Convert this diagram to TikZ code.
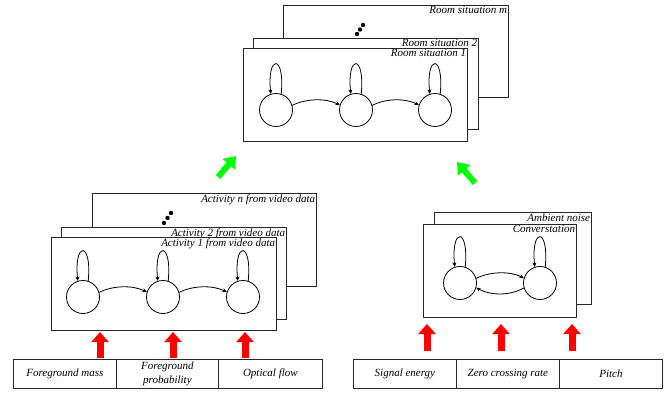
\documentclass[tikz,border=0pt]{standalone}
\usepackage{fontspec}
\setmainfont{Liberation Serif}
\usetikzlibrary{arrows.meta}
\begin{document}
\begin{tikzpicture}[x=1pt,y=-1pt,
 panel/.style={draw=black!85, line width=0.8pt, fill=white, anchor=north west, inner sep=0pt},
 lbl/.style={anchor=north east, inner sep=1.5pt, font=\fontsize{11}{12}\selectfont\itshape},
 st/.style={circle, draw, line width=0.8pt, minimum size=33pt, inner sep=0pt, fill=white},
 tr/.style={line width=0.8pt, -{Stealth[length=4.5pt,width=4pt]}},
 feat/.style={draw=black!85, line width=0.8pt, minimum height=29pt, anchor=north west, inner sep=0pt, align=center, font=\fontsize{11}{14.5}\selectfont\itshape},
 redarr/.style={draw=red, line width=7pt, -{Triangle[width=17pt,length=10pt]}},
 grnarr/.style={draw=green, line width=6pt, -{Triangle[width=16pt,length=11pt]}},
 dot/.style={circle, fill, inner sep=0pt, minimum size=4.4pt}
]
\useasboundingbox (0,0) rectangle (671,395);

% ---------- Room situations ----------
\node[panel, minimum width=225pt, minimum height=92pt] (rm) at (283,5) {};
\node[lbl] (rml) at (rm.north east) {Room situation m};
\node[dot] (rd1) at (357,34) {};
\node[dot] (rd2) at (360,29.5) {};
\node[dot] (rd3) at (363,25) {};
\node[panel, minimum width=225pt, minimum height=91pt] (r2) at (253,38) {};
\node[lbl] (r2l) at (r2.north east) {Room situation 2};
\node[panel, minimum width=224pt, minimum height=93pt] (r1) at (243,48) {};
\node[lbl] (r1l) at (r1.north east) {Room situation 1};
\node[st] (rs1) at (276,110) {};
\node[st] (rs2) at (356,110) {};
\node[st] (rs3) at (435,110) {};
\foreach \n in {rs1,rs2,rs3}{
  \draw[tr] (\n.72) .. controls +(4,-40) and +(-4,-40) .. (\n.108);
}
\draw[tr] (rs1.16) .. controls +(14,-7) and +(-14,-7) .. (rs2.163);
\draw[tr] (rs2.16) .. controls +(14,-7) and +(-14,-7) .. (rs3.163);

% ---------- Activities ----------
\node[panel, minimum width=224pt, minimum height=93pt] (an) at (92,193) {};
\node[lbl] (anl) at (an.north east) {Activity n from video data};
\node[dot] (ad1) at (164,223) {};
\node[dot] (ad2) at (167.5,218) {};
\node[dot] (ad3) at (171,213) {};
\node[panel, minimum width=225pt, minimum height=92pt] (a2) at (61,227) {};
\node[lbl] (a2l) at (a2.north east) {Activity 2 from video data};
\node[panel, minimum width=225pt, minimum height=93pt] (a1) at (51,237) {};
\node[lbl] (a1l) at (a1.north east) {Activity 1 from video data};
\node[st] (as1) at (83,297) {};
\node[st] (as2) at (163,297) {};
\node[st] (as3) at (243,297) {};
\foreach \n in {as1,as2,as3}{
  \draw[tr] (\n.72) .. controls +(4,-40) and +(-4,-40) .. (\n.108);
}
\draw[tr] (as1.16) .. controls +(14,-7) and +(-14,-7) .. (as2.163);
\draw[tr] (as2.16) .. controls +(14,-7) and +(-14,-7) .. (as3.163);

% ---------- Audio ----------
\node[panel, minimum width=157pt, minimum height=92pt] (amb) at (434,212) {};
\node[lbl] (ambl) at (amb.north east) {Ambient noise};
\node[panel, minimum width=153pt, minimum height=93pt] (conv) at (423,224) {};
\node[lbl] (convl) at (conv.north east) {Converstation};
\node[st] (cs1) at (460,283) {};
\node[st] (cs2) at (540,283) {};
\foreach \n in {cs1,cs2}{
  \draw[tr] (\n.72) .. controls +(4,-40) and +(-4,-40) .. (\n.108);
}
\draw[tr] (cs1.16) .. controls +(14,-7) and +(-14,-7) .. (cs2.163);
\draw[tr] (cs2.197) .. controls +(-14,8) and +(14,8) .. (cs1.344);

% ---------- Features ----------
\node[feat, minimum width=103pt] (fm) at (13,359) {Foreground mass};
\node[feat, minimum width=102pt] (fp) at (116,359) {Foreground\\probability};
\node[feat, minimum width=104pt] (of) at (218,359) {Optical flow};
\node[feat, minimum width=103pt] (se) at (353,359) {Signal energy};
\node[feat, minimum width=103pt] (zc) at (456,359) {Zero crossing rate};
\node[feat, minimum width=103pt] (pi) at (559,359) {Pitch};

% ---------- Red arrows ----------
\coordinate (l1s) at (100,358); \coordinate (l1e) at (100,332);
\coordinate (l2s) at (173,358); \coordinate (l2e) at (173,332);
\coordinate (l3s) at (245,358); \coordinate (l3e) at (245,332);
\coordinate (q1s) at (427,351); \coordinate (q1e) at (427,324);
\coordinate (q2s) at (501,351); \coordinate (q2e) at (501,324);
\coordinate (q3s) at (572,351); \coordinate (q3e) at (572,324);
\foreach \a in {l1,l2,l3,q1,q2,q3}{
  \draw[redarr] (\a s) -- (\a e);
}

% ---------- Green arrows ----------
\coordinate (g1s) at (218,177); \coordinate (g1e) at (236,156);
\coordinate (g2s) at (475,183); \coordinate (g2e) at (457,162);
\draw[grnarr] (g1s) -- (g1e);
\draw[grnarr] (g2s) -- (g2e);
\end{tikzpicture}
\end{document}
